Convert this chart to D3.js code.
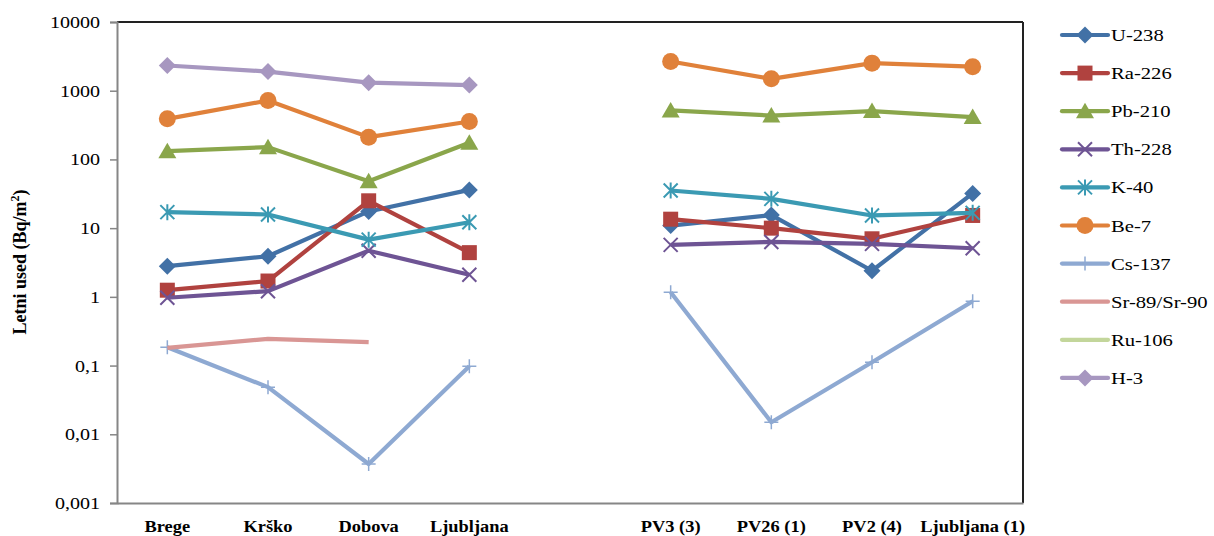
<!DOCTYPE html>
<html><head><meta charset="utf-8">
<script src="https://cdn.jsdelivr.net/npm/d3@7"></script>
<style>body{margin:0;background:#fff}svg{display:block}text{font-family:"Liberation Serif","Times New Roman",serif;fill:#000}</style>
</head><body><svg id="c" width="1214" height="536"></svg>
<script>
const categories = ["Brege","Krško","Dobova","Ljubljana","","PV3 (3)","PV26 (1)","PV2 (4)","Ljubljana (1)"];
const yTicks = [0.001,0.01,0.1,1,10,100,1000,10000];
const yTickLabels = ["0,001","0,01","0,1","1","10","100","1000","10000"];
const seriesNames = ["U-238","Ra-226","Pb-210","Th-228","K-40","Be-7","Cs-137","Sr-89/Sr-90","Ru-106","H-3"];
const u238  = [2.8, 3.9, 17.5, 36, null, 10.9, 15.5, 2.4, 32];
const ra226 = [1.25, 1.7, 25, 4.4, null, 13.5, 10, 7, 15.3];
const pb210 = [132, 151, 48, 175, null, 516, 435, 505, 413];
const th228 = [0.97, 1.21, 4.7, 2.1, null, 5.7, 6.3, 5.9, 5.1];
const k40   = [17.1, 15.8, 6.8, 12.2, null, 35.3, 26.7, 15.3, 16.7];
const be7   = [390, 720, 211, 357, null, 2660, 1490, 2520, 2240];
const cs137 = [0.185, 0.0485, 0.0037, 0.098, null, 1.17, 0.015, 0.112, 0.865];
const sr90  = [0.181, 0.245, 0.219, null, null, null, null, null, null];
const ru106 = [null, null, null, null, null, null, null, null, null];
const h3    = [2330, 1900, 1310, 1210, null, null, null, null, null];
const seriesValues = [u238, ra226, pb210, th228, k40, be7, cs137, sr90, ru106, h3];
const colors = ["#4271a6","#b0423f","#8aa64b","#6e5494","#3b9ab3","#e0813a","#8ea9d2","#d99694","#c3d69b","#a797c0"];
const markers = ["diamond","square","triangle","x","asterisk","circle","plus","none","none","diamond"];

const svg = d3.select("#c");
const L = 117, R = 1023, T = 22, B = 503;
const x = d3.scaleBand().domain(categories).range([L, R]);
const y = d3.scaleLog().domain([0.001, 10000]).range([B, T]);
const SX = 1.18;

function stext(g, tx, ty, str, opts) {
  const t = g.append("text")
    .attr("transform", `translate(${tx},${ty}) scale(${opts.sx||SX},1)${opts.rot?` rotate(${opts.rot})`:""}`)
    .attr("text-anchor", opts.anchor || "start")
    .style("font-size", (opts.size||17) + "px")
    .style("font-weight", opts.bold ? "bold" : "normal");
  t.text(str);
  return t;
}

// frame
svg.append("line").attr("x1", L).attr("x2", R).attr("y1", T).attr("y2", T).attr("stroke", "#222").attr("stroke-width", 2);
svg.append("line").attr("x1", R).attr("x2", R).attr("y1", T).attr("y2", B).attr("stroke", "#222").attr("stroke-width", 2);

// y axis
const yAxis = d3.axisLeft(y).tickValues(yTicks).tickSize(7).tickFormat("");
const ya = svg.append("g").attr("transform", `translate(${L},0)`).call(yAxis);
ya.select(".domain").attr("stroke", "#868686").attr("stroke-width", 2);
ya.selectAll(".tick line").attr("stroke", "#868686").attr("stroke-width", 1.5);
yTicks.forEach((v, i) => stext(svg, 100, y(v) + 6, yTickLabels[i], {anchor: "end", size: 17}));

// x axis
const xAxis = d3.axisBottom(x).tickSize(0).tickFormat("");
const xa = svg.append("g").attr("transform", `translate(0,${B})`).call(xAxis);
xa.select(".domain").attr("stroke", "#868686").attr("stroke-width", 2);
categories.forEach(c => { if (c) stext(svg, x(c) + x.bandwidth()/2, 532, c, {anchor: "middle", size: 16, bold: true, sx: 1.15}); });

// y title
const yt = svg.append("text").attr("transform", "translate(26,262) rotate(-90)").attr("text-anchor", "middle")
  .style("font-size", "18px").style("font-weight", "bold");
yt.append("tspan").text("Letni used (Bq/m");
yt.append("tspan").text("2").attr("dy", -7).style("font-size", "12px");
yt.append("tspan").text(")").attr("dy", 7);

function drawMarker(g, type, cx, cy, color) {
  switch (type) {
    case "diamond":
      g.append("path").attr("d", `M${cx},${cy-8.5}L${cx+8.5},${cy}L${cx},${cy+8.5}L${cx-8.5},${cy}Z`).attr("fill", color); break;
    case "square":
      g.append("rect").attr("x", cx-7.5).attr("y", cy-7.5).attr("width", 15).attr("height", 15).attr("fill", color); break;
    case "triangle":
      g.append("path").attr("d", `M${cx},${cy-8.5}L${cx+9},${cy+7}L${cx-9},${cy+7}Z`).attr("fill", color); break;
    case "circle":
      g.append("circle").attr("cx", cx).attr("cy", cy).attr("r", 8.5).attr("fill", color); break;
    case "x":
      g.append("path").attr("d", `M${cx-7},${cy-7}L${cx+7},${cy+7}M${cx-7},${cy+7}L${cx+7},${cy-7}`).attr("stroke", color).attr("stroke-width", 2); break;
    case "asterisk":
      g.append("path").attr("d", `M${cx-7},${cy-7}L${cx+7},${cy+7}M${cx-7},${cy+7}L${cx+7},${cy-7}M${cx},${cy-8}L${cx},${cy+8}`).attr("stroke", color).attr("stroke-width", 2); break;
    case "plus":
      g.append("path").attr("d", `M${cx-7},${cy}L${cx+7},${cy}M${cx},${cy-7}L${cx},${cy+7}`).attr("stroke", color).attr("stroke-width", 1.5); break;
  }
}

const line = d3.line().defined(d => d.v != null).x(d => x(d.c) + x.bandwidth()/2).y(d => y(d.v));
seriesValues.forEach((vals, si) => {
  const g = svg.append("g");
  const pts = categories.map((c, i) => ({c, v: vals[i]}));
  // Excel connects only consecutive points; gap at blank category breaks lines
  g.append("path").datum(pts).attr("d", line).attr("fill", "none").attr("stroke", colors[si])
    .attr("stroke-width", 4.2).attr("stroke-linejoin", "round");
  pts.forEach(p => { if (p.v != null) drawMarker(g, markers[si], x(p.c) + x.bandwidth()/2, y(p.v), colors[si]); });
});

// legend
seriesNames.forEach((n, i) => {
  const ly = 35 + i * 38.1;
  const g = svg.append("g");
  g.append("line").attr("x1", 1062).attr("x2", 1108).attr("y1", ly).attr("y2", ly).attr("stroke", colors[i]).attr("stroke-width", 4.2).attr("stroke-linecap", "round");
  drawMarker(g, markers[i], 1085, ly, colors[i]);
  stext(g, 1111, ly + 6, n, {size: 17.5, sx: 1.18});
});
</script></body></html>
